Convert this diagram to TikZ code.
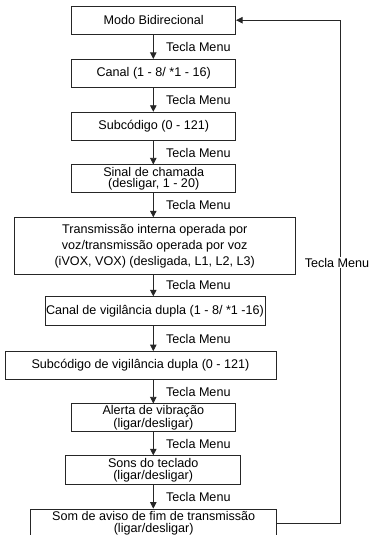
\documentclass[tikz,border=0pt]{standalone}
\usepackage{fontspec}
\setmainfont{Liberation Sans}
\usetikzlibrary{arrows.meta,positioning,calc}
\tikzset{
  box/.style={draw=black!85,line width=0.8pt,align=center,inner sep=1pt,
    font=\fontsize{12.6}{11.8}\selectfont,minimum height=28pt},
  lbl/.style={font=\fontsize{12.6}{12}\selectfont,inner sep=0pt},
  arr/.style={-{Triangle[length=6.5pt,width=6.5pt]},line width=0.8pt,draw=black!85},
}
\begin{document}
\begin{tikzpicture}[x=1pt,y=-1pt]
\useasboundingbox (0,0) rectangle (375,535);
\clip (0,0) rectangle (375,535);
\coordinate (spine) at (153.3,0);
\coordinate (ret) at (340,0);
\node[box,minimum width=164pt] (b1) at (153.7,20.2) {Modo Bidirecional};
\node[box,minimum width=164pt] (b2) at (153.7,73.3) {Canal (1 - 8/ *1 - 16)};
\node[box,minimum width=164pt] (b3) at (153.7,126.2) {Subcódigo (0 - 121)};
\node[box,minimum width=164pt] (b4) at (153.7,178.8) {Sinal de chamada\\(desligar, 1 - 20)};
\node[box,minimum width=280.7pt,minimum height=56.3pt,font=\fontsize{12.6}{16}\selectfont] (b5) at (154.7,245.8)
  {Transmissão interna operada por\\voz/transmissão operada por voz\\(iVOX, VOX) (desligada, L1, L2, L3)};
\node[box,minimum width=216.6pt,minimum height=29pt] (b6) at (155,311.2) {Canal de vigilância dupla (1 - 8/ *1 -16)};
\node[box,minimum width=271pt] (b7) at (140.5,365.5) {Subcódigo de vigilância dupla (0 - 121)};
\node[box,minimum width=164.7pt] (b8) at (153.3,417.8) {Alerta de vibração\\(ligar/desligar)};
\node[box,minimum width=175pt,minimum height=28.6pt] (b9) at (153.2,470) {Sons do teclado\\(ligar/desligar)};
\node[box,minimum width=246pt] (b10) at (153.7,523) {Som de aviso de fim de transmissão\\(ligar/desligar)};
% forward steps
\foreach \a/\b in {b1/b2,b2/b3,b3/b4,b4/b5,b5/b6,b6/b7,b7/b8,b8/b9,b9/b10}
  \draw[arr] (\a.south -| spine) -- (\b.north -| spine)
    node[lbl,midway,anchor=west,xshift=12.4pt] {Tecla Menu};
% back to the start
\draw[arr] (b10.east) -- (b10.east -| ret) -- (b1.east -| ret)
  node[lbl,pos=0.5176,fill=white,inner sep=1pt,xshift=-3pt] {Tecla Menu} -- (b1.east);
\end{tikzpicture}
\end{document}
